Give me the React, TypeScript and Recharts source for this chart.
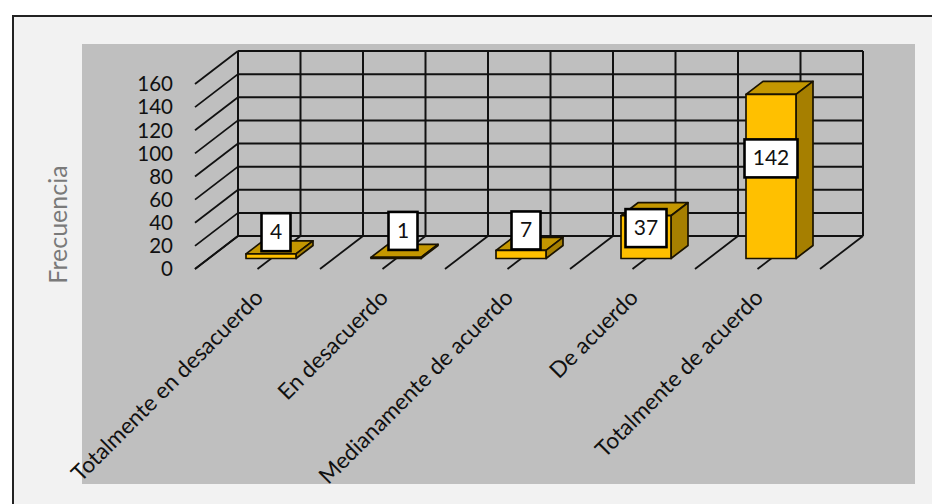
import { BarChart, Bar, XAxis, YAxis, CartesianGrid, LabelList } from "recharts"

const categories = [
  "Totalmente en desacuerdo",
  "En desacuerdo",
  "Medianamente de acuerdo",
  "De acuerdo",
  "Totalmente de acuerdo",
]
const frecuencia = [4, 1, 7, 37, 142]
const yTicks = [0, 20, 40, 60, 80, 100, 120, 140, 160]

const data = categories.map((name, i) => ({ name, value: frecuencia[i] }))

// fake 3D: how far the back wall and the bars sit behind the front plane
const WALL_DX = 43
const WALL_DY = -33
const BAR_SHIFT_X = 13
const BAR_SHIFT_Y = -10.5
const BAR_DX = 17
const BAR_DY = -13

// the data labels were placed by hand in the original
const labelNudge = [
  { dx: 5, dy: -24, w: 29 },
  { dx: 7, dy: -27, w: 29 },
  { dx: 5, dy: -24, w: 29 },
  { dx: 0, dy: -9, w: 41 },
  { dx: 0, dy: -18, w: 53 },
]

const FONT = "Lato, Carlito, sans-serif"

function WallHorizontal(p: any) {
  return (
    <g key={p.key}>
      <line x1={p.x1 + WALL_DX} x2={p.x2 + WALL_DX} y1={p.y1 + WALL_DY} y2={p.y2 + WALL_DY} stroke="#111" strokeWidth={2} />
      <line x1={p.x1} x2={p.x1 + WALL_DX} y1={p.y1} y2={p.y1 + WALL_DY} stroke="#111" strokeWidth={1.8} />
    </g>
  )
}

function WallVertical(p: any) {
  return (
    <g key={p.key}>
      <line x1={p.x1 + WALL_DX} x2={p.x2 + WALL_DX} y1={p.y1 + WALL_DY} y2={p.y2 + WALL_DY} stroke="#111" strokeWidth={2} />
      <line x1={p.x2} x2={p.x2 + WALL_DX} y1={p.y2} y2={p.y2 + WALL_DY} stroke="#111" strokeWidth={1.8} />
    </g>
  )
}

function Bar3D(props: any) {
  const x = props.x + BAR_SHIFT_X
  const w = props.width
  const top = props.y + BAR_SHIFT_Y
  const bottom = top + props.height
  const line = { stroke: "#1a1300", strokeWidth: 1.7, strokeLinejoin: "round" as const }
  return (
    <g>
      <polygon
        points={`${x},${top} ${x + BAR_DX},${top + BAR_DY} ${x + w + BAR_DX},${top + BAR_DY} ${x + w},${top}`}
        fill="#c49700"
        {...line}
      />
      <polygon
        points={`${x + w},${top} ${x + w + BAR_DX},${top + BAR_DY} ${x + w + BAR_DX},${bottom + BAR_DY} ${x + w},${bottom}`}
        fill="#a67f00"
        {...line}
      />
      <rect x={x} y={top} width={w} height={props.height} fill="#ffc000" {...line} />
    </g>
  )
}

function ValueBox(props: any) {
  const n = labelNudge[props.index]
  const cx = props.x + props.width / 2 + BAR_SHIFT_X + n.dx
  const cy = props.y + props.height / 2 + BAR_SHIFT_Y + n.dy
  return (
    <g>
      <rect x={cx - n.w / 2} y={cy - 19} width={n.w} height={38} fill="#fff" stroke="#000" strokeWidth={2.6} />
      <text x={cx} y={cy + 7} textAnchor="middle" fontFamily={FONT} fontSize={21} fill="#111">
        {props.value}
      </text>
    </g>
  )
}

function CategoryTick({ x, y, payload }: any) {
  return (
    <text
      transform={`translate(${x + 7},${y + 22}) rotate(-45)`}
      textAnchor="end"
      fontFamily={FONT}
      fontSize={22.5}
      fill="#111"
    >
      {payload.value}
    </text>
  )
}

function AxisTitle({ viewBox }: any) {
  return (
    <text
      transform={`translate(${viewBox.x + 12},${viewBox.y + viewBox.height / 2 + 48}) rotate(-90)`}
      textAnchor="middle"
      fontFamily={FONT}
      fontSize={25}
      fill="#7a7a7a"
    >
      Frecuencia
    </text>
  )
}

export default function App() {
  return (
    <div style={{ position: "absolute", left: 0, top: 0, width: 932, height: 504, background: "#fff", overflow: "hidden" }}>
      <div
        style={{
          position: "absolute",
          left: 12,
          top: 15,
          width: 930,
          height: 500,
          background: "#f2f2f2",
          border: "2px solid #222",
          boxSizing: "border-box",
        }}
      />
      <div style={{ position: "absolute", left: 82, top: 44, width: 833, height: 440, background: "#bfbfbf" }} />
      <div style={{ position: "absolute", left: 0, top: 0 }}>
        <BarChart
          width={932}
          height={504}
          data={data}
          barSize={50}
          margin={{ top: 84, right: 112, bottom: 205, left: 55 }}
        >
          <CartesianGrid
            horizontal={WallHorizontal}
            vertical={WallVertical}
            verticalCoordinatesGenerator={({ offset }: any) =>
              Array.from({ length: categories.length * 2 + 1 }, (_, i) => offset.left + (i * offset.width) / (categories.length * 2))
            }
          />
          <XAxis dataKey="name" height={30} interval={0} axisLine={false} tickLine={false} tick={<CategoryTick />} />
          <YAxis
            width={140}
            domain={[0, 160]}
            ticks={yTicks}
            interval={0}
            axisLine={false}
            tickLine={false}
            tickSize={0}
            tickMargin={22}
            tick={{ fontFamily: FONT, fontSize: 20.5, fill: "#111" }}
            label={<AxisTitle />}
          />
          <Bar dataKey="value" isAnimationActive={false} shape={<Bar3D />}>
            <LabelList dataKey="value" content={<ValueBox />} />
          </Bar>
        </BarChart>
      </div>
    </div>
  )
}
